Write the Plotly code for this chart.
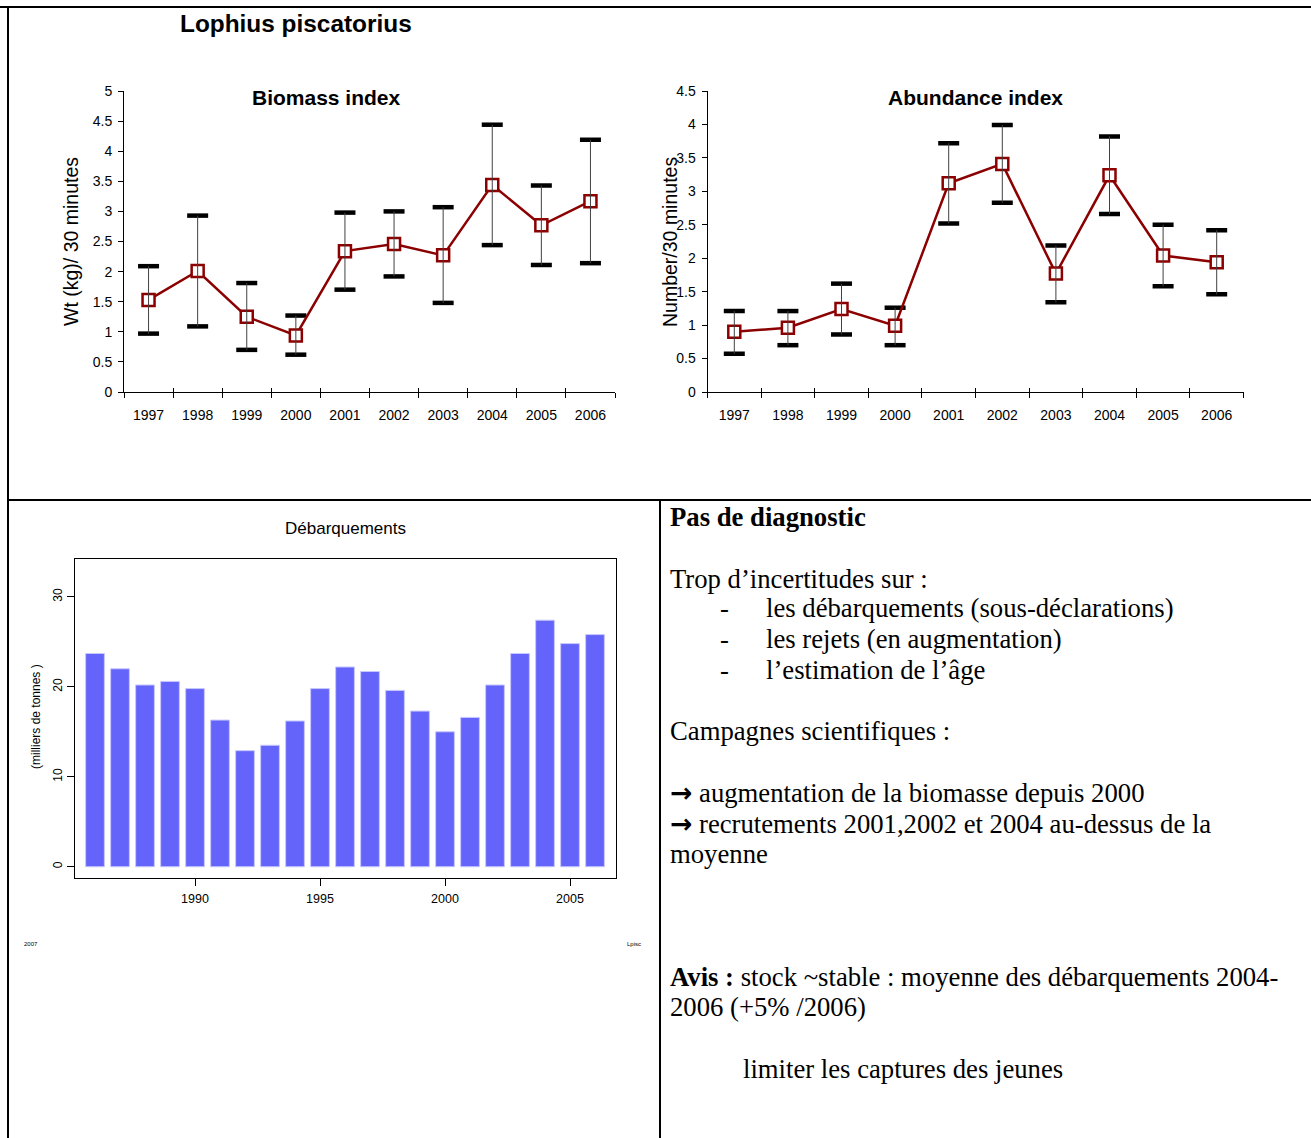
import plotly.graph_objects as go

# survey indices
years = ['1997', '1998', '1999', '2000', '2001', '2002', '2003', '2004', '2005', '2006']
biomass = [1.53, 2.01, 1.25, 0.94, 2.34, 2.46, 2.27, 3.44, 2.77, 3.17]
biomass_hi = [2.09, 2.93, 1.81, 1.27, 2.98, 3.00, 3.07, 4.44, 3.43, 4.19]
biomass_lo = [0.97, 1.09, 0.70, 0.62, 1.70, 1.92, 1.48, 2.44, 2.11, 2.14]

abundance = [0.90, 0.96, 1.24, 0.99, 3.12, 3.41, 1.77, 3.24, 2.04, 1.94]
abundance_hi = [1.21, 1.21, 1.62, 1.26, 3.72, 3.99, 2.19, 3.82, 2.50, 2.42]
abundance_lo = [0.57, 0.70, 0.86, 0.70, 2.52, 2.83, 1.34, 2.66, 1.58, 1.46]

# landings (milliers de tonnes)
land_years = [1986, 1987, 1988, 1989, 1990, 1991, 1992, 1993, 1994, 1995, 1996,
              1997, 1998, 1999, 2000, 2001, 2002, 2003, 2004, 2005, 2006]
landings = [23.7, 22.0, 20.2, 20.6, 19.8, 16.3, 12.9, 13.5, 16.2, 19.8, 22.2,
            21.7, 19.6, 17.3, 15.0, 16.6, 20.2, 23.7, 27.4, 24.8, 25.8]

W, H = 1311, 1138
RED = '#8B0000'
SANS = 'Arial, Liberation Sans, sans-serif'
SERIF = 'Times New Roman, Liberation Serif, serif'


def px(x):
    return x / W


def py(y):
    return 1 - y / H


fig = go.Figure()


def add_index(vals, hi, lo, xa, xa_over, ya):
    # thin whiskers live on an overlay axis that only carries inside ticks
    fig.add_trace(go.Scatter(
        x=years, y=vals, mode='markers', xaxis=xa_over, yaxis=ya,
        marker=dict(size=1, color='rgba(0,0,0,0)'),
        error_y=dict(type='data', symmetric=False,
                     array=[h - v for h, v in zip(hi, vals)],
                     arrayminus=[v - l for v, l in zip(vals, lo)],
                     color='#404040', thickness=1, width=0),
        hoverinfo='skip'))
    fig.add_trace(go.Scatter(
        x=years + years, y=hi + lo, mode='markers', xaxis=xa, yaxis=ya,
        marker=dict(symbol='line-ew', size=15, line=dict(width=4.5, color='black')),
        hoverinfo='skip'))
    fig.add_trace(go.Scatter(
        x=years, y=vals, mode='lines+markers', xaxis=xa, yaxis=ya,
        line=dict(color=RED, width=2.5),
        marker=dict(symbol='square', size=12, color='white',
                    line=dict(color=RED, width=2.5))))


add_index(biomass, biomass_hi, biomass_lo, 'x', 'x4', 'y')
add_index(abundance, abundance_hi, abundance_lo, 'x2', 'x5', 'y2')

fig.add_trace(go.Bar(
    x=land_years, y=landings, width=0.75, xaxis='x3', yaxis='y3',
    marker=dict(color='#6464FA', line=dict(color='#C8C8FF', width=1))))

cat_x = dict(type='category', range=[-0.5, 9.5], tickson='boundaries',
             ticks='outside', ticklen=5, tickcolor='black', showline=True,
             linecolor='black', linewidth=1, showgrid=False, zeroline=False,
             tickfont=dict(family=SANS, size=14, color='black'),
             ticklabelstandoff=10)
cat_over = dict(type='category', range=[-0.5, 9.5], tickson='boundaries',
                ticks='inside', ticklen=4, tickcolor='black', showline=False,
                showgrid=False, zeroline=False, showticklabels=False)
val_y = dict(ticks='outside', ticklen=5, tickcolor='black', showline=True,
             linecolor='black', linewidth=1, showgrid=False, zeroline=False,
             tickfont=dict(family=SANS, size=14, color='black'), dtick=0.5,
             ticklabelstandoff=3)

fig.update_layout(
    width=W, height=H, margin=dict(l=0, r=0, t=0, b=0, autoexpand=False),
    paper_bgcolor='white', plot_bgcolor='white', showlegend=False,
    xaxis=dict(cat_x, domain=[px(124), px(615)], anchor='y'),
    yaxis=dict(val_y, domain=[py(392), py(91)], anchor='x', range=[0, 5]),
    xaxis4=dict(cat_over, overlaying='x', anchor='y'),
    xaxis2=dict(cat_x, domain=[px(707.5), px(1243.5)], anchor='y2'),
    yaxis2=dict(val_y, domain=[py(392), py(91)], anchor='x2', range=[0, 4.5]),
    xaxis5=dict(cat_over, overlaying='x2', anchor='y2'),
    xaxis3=dict(domain=[px(75), px(616)], anchor='y3', range=[1985.2, 2006.84],
                tickvals=[1990, 1995, 2000, 2005], ticks='outside', ticklen=7,
                tickcolor='black', showline=True, mirror=True, linecolor='black',
                linewidth=1, showgrid=False, zeroline=False, ticklabelstandoff=2,
                tickfont=dict(family=SANS, size=12.5, color='black')),
    yaxis3=dict(domain=[py(878), py(559)], anchor='x3', range=[-1.25, 34.2],
                tickvals=[0, 10, 20, 30], tickangle=-90, ticks='outside', ticklen=7,
                tickcolor='black', showline=True, mirror=True, linecolor='black',
                linewidth=1, showgrid=False, zeroline=False,
                tickfont=dict(family=SANS, size=12, color='black')),
)

# table borders
for x0, y0, x1, y1 in [(0, 7, W, 7), (8, 7, 8, H), (8, 500, W, 500), (660, 500, 660, H)]:
    fig.add_shape(type='line', xref='paper', yref='paper',
                  x0=px(x0), y0=py(y0), x1=px(x1), y1=py(y1),
                  line=dict(color='black', width=2))


def note(text, x, y, size, family=SANS, xanchor='center', angle=0):
    fig.add_annotation(text=text, x=px(x), y=py(y), xref='paper', yref='paper',
                       showarrow=False, xanchor=xanchor, yanchor='middle',
                       textangle=angle, font=dict(family=family, size=size, color='black'))


note('<b>Lophius piscatorius</b>', 296, 24, 24.4)
note('<b>Biomass index</b>', 326, 97, 21)
note('<b>Abundance index</b>', 975, 97, 21)
note('Wt (kg)/ 30 minutes', 71, 242, 19.5, angle=-90)
note('Number/30 minutes', 670, 242, 19.5, angle=-90)
note('Débarquements', 345, 528, 17)
note('(milliers de tonnes )', 36, 717, 12, angle=-90)
note('2007', 31, 944, 6)
note('Lpisc', 634, 944, 6)

# text block
ARROW = '<span style="font-family:DejaVu Sans"><b>→</b></span>'
lines = [
    ('<b>Pas de diagnostic</b>', 668, 517),
    ('Trop d’incertitudes sur :', 668, 579),
    ('-', 718, 608), ('les débarquements (sous-déclarations)', 764, 608),
    ('-', 718, 639), ('les rejets (en augmentation)', 764, 639),
    ('-', 718, 670), ('l’estimation de l’âge', 764, 670),
    ('Campagnes scientifiques :', 668, 731),
    (ARROW + ' augmentation de la biomasse depuis 2000', 668, 792),
    (ARROW + ' recrutements 2001,2002 et 2004 au-dessus de la', 668, 823),
    ('moyenne', 668, 854),
    ('<b>Avis :</b> stock ~stable : moyenne des débarquements 2004-', 668, 977),
    ('2006 (+5% /2006)', 668, 1007),
    ('limiter les captures des jeunes', 741, 1069),
]
for t, x, y in lines:
    note(t, x, y, 26.7, family=SERIF, xanchor='left')

fig.write_html("out.html", config={'displayModeBar': False},
               post_script="document.body.style.margin='0';")
